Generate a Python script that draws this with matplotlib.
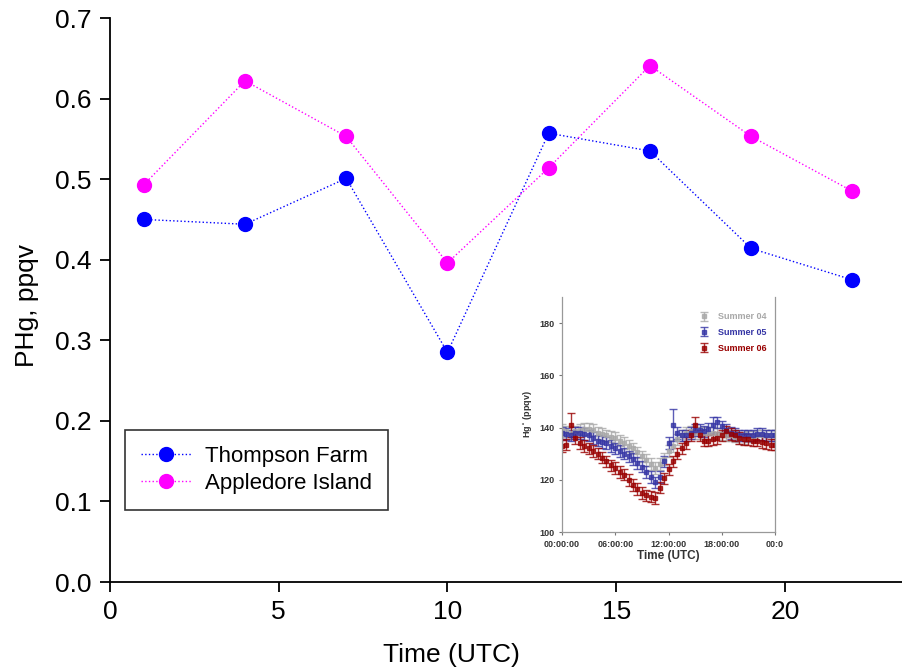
import numpy as np
import matplotlib.pyplot as plt

plt.rcParams['font.family'] = ['Liberation Sans', 'DejaVu Sans']

# main panel data
hours = [1, 4, 7, 10, 13, 16, 19, 22]
thompson = [0.450, 0.444, 0.501, 0.285, 0.557, 0.535, 0.414, 0.375]
appledore = [0.493, 0.622, 0.553, 0.396, 0.514, 0.641, 0.553, 0.485]

# inset data (half-hourly, Hg0 in ppqv)
t_inset = np.arange(0, 24.5, 0.5)
summer04 = [139, 138.5, 138, 138.5, 139, 139.5, 139.5, 139, 138, 137.5, 137, 136.5,
            136, 135, 134, 133, 132, 130.5, 129, 127.5, 126, 124.5, 126, 128,
            131, 133, 135.5, 137, 138, 138.5, 138, 138, 138, 138, 138, 137.5,
            137.5, 137, 137, 136.5, 136, 136, 136.5, 136.5, 137, 137, 137, 137, 137]
summer05 = [138, 137.5, 137, 138, 138, 137.5, 137, 136, 135, 134.5, 134, 133,
            132, 131, 130, 129, 128, 126.5, 125, 123, 121, 119, 121, 127,
            134, 141, 138, 137, 137, 138, 139, 139, 138.5, 139.5, 141, 142,
            140.5, 139, 138, 137.5, 137, 137, 137, 137, 137.5, 137.5, 137, 137, 137]
summer06 = [133, 133.5, 141, 136, 134, 133, 132, 131, 130, 128.5, 127, 125.5,
            124.5, 123, 122, 120, 118, 116.5, 115, 114, 113.5, 113, 117, 120.5,
            124, 127, 130, 132, 134, 137, 141, 137, 135, 135, 135.5, 136,
            137, 138.5, 137.5, 137, 136, 135.5, 135.5, 135, 135, 134.5, 134, 133.5, 133.5]
err04 = 2.2
err05 = [2.2] * 49
err05[25] = 6.0
err05[34] = 3.0
err06 = [2.2] * 49
err06[2] = 4.5
err06[30] = 3.0

fig = plt.figure(figsize=(9.03, 6.67), dpi=100)
ax = fig.add_axes([110 / 903, 85 / 667, 793 / 903, 564 / 667])

ax.plot(hours, thompson, ':', color='#0000ff', lw=1, marker='o', ms=10,
        markerfacecolor='#0000ff', markeredgecolor='#0000ff', label='Thompson Farm')
ax.plot(hours, appledore, ':', color='#ff00ff', lw=1, marker='o', ms=10,
        markerfacecolor='#ff00ff', markeredgecolor='#ff00ff', label='Appledore Island')

ax.set_xlim(0, 23.5)
ax.set_ylim(0, 0.7)
ax.set_xticks([0, 5, 10, 15, 20])
ax.set_yticks(np.arange(0, 0.71, 0.1))
ax.set_yticklabels(['%.1f' % v for v in np.arange(0, 0.71, 0.1)])
ax.spines['top'].set_visible(False)
ax.spines['right'].set_visible(False)
for s in ['left', 'bottom']:
    ax.spines[s].set_linewidth(1.3)
ax.tick_params(direction='out', length=7, width=1.3, labelsize=19, pad=6)
ax.set_xlabel('Time (UTC)', fontsize=19)
ax.xaxis.set_label_coords(0.431, -0.108)
ax.set_ylabel('PHg, ppqv', fontsize=19)
ax.yaxis.set_label_coords(-0.089, 0.49)

leg = ax.legend(loc='lower left', bbox_to_anchor=(0.019, 0.128), borderaxespad=0,
                fontsize=16, frameon=True, fancybox=False, edgecolor='black',
                handlelength=2.3, borderpad=0.7, labelspacing=0.3, handletextpad=0.6)
leg.get_frame().set_linewidth(1.2)

# inset
ax2 = fig.add_axes([562 / 903, 135 / 667, 213 / 903, 235 / 667])
series = [(summer04, err04, '#a8a8a8', 'Summer 04'),
          (summer05, err05, '#3535a5', 'Summer 05'),
          (summer06, err06, '#990000', 'Summer 06')]
for vals, err, col, lab in series:
    ax2.errorbar(t_inset, vals, yerr=err, fmt='s', ms=3, color=col, ecolor=col,
                 elinewidth=1.0, capsize=3, capthick=1.0, alpha=0.8, label=lab)
ax2.set_xlim(0, 24)
ax2.set_ylim(100, 190)
ax2.set_xticks([0, 6, 12, 18, 24])
ax2.set_xticklabels(['00:00:00', '06:00:00', '12:00:00', '18:00:00', '00:0'])
ax2.set_yticks([100, 120, 140, 160, 180])
for s in ax2.spines.values():
    s.set_color('#999999')
    s.set_linewidth(0.9)
ax2.spines['top'].set_visible(False)
ax2.tick_params(labelsize=6.5, length=2.5, width=0.8, color='#777777', pad=3)
for lbl in ax2.get_xticklabels() + ax2.get_yticklabels():
    lbl.set_fontweight('bold')
    lbl.set_color('#333333')
ax2.set_xlabel('Time (UTC)', fontsize=8.5, fontweight='bold', color='#333333', labelpad=1)
ax2.set_ylabel('Hg$^{\\circ}$ (ppqv)', fontsize=6.5, fontweight='bold', color='#333333', labelpad=4)
leg2 = ax2.legend(loc='upper right', bbox_to_anchor=(1.0, 0.97), fontsize=6.5,
                  frameon=False, handlelength=0.5, handletextpad=1.3,
                  labelspacing=0.75, markerscale=0.9)
for txt, (_, _, col, _) in zip(leg2.get_texts(), series):
    txt.set_color(col)
    txt.set_fontweight('bold')

fig.savefig('out.png', dpi=100)
